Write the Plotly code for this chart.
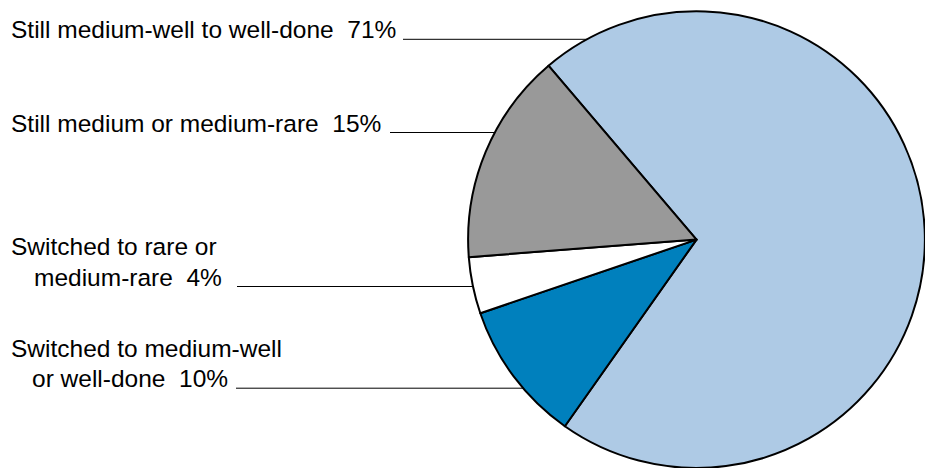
import math
import plotly.graph_objects as go

# ---- data ----
categories = ["Still medium-well to well-done",
              "Switched to medium-well or well-done",
              "Switched to rare or medium-rare",
              "Still medium or medium-rare"]
values = [71, 10, 4, 15]
label_lines = [["Still medium-well to well-done"],
               ["Switched to medium-well", "or well-done"],
               ["Switched to rare or", "medium-rare"],
               ["Still medium or medium-rare"]]
colors = ["#aecae5", "#0080bd", "#ffffff", "#999999"]

# ---- layout geometry (pixels) ----
W, H = 925, 468
dom_x = [468 / W, 1.0]
dom_y = [0.0, 0.976]
pw = (dom_x[1] - dom_x[0]) * W
ph = (dom_y[1] - dom_y[0]) * H
R = min(pw, ph) / 2
CX = (dom_x[0] + dom_x[1]) / 2 * W
CY = H - (dom_y[0] + dom_y[1]) / 2 * H

FONT = dict(family="Liberation Sans, Arial, sans-serif", size=24.5, color="#000000")

fig = go.Figure(go.Pie(
    labels=categories,
    values=values,
    sort=False,
    direction="clockwise",
    rotation=-40.4,
    marker=dict(colors=colors, line=dict(color="#000000", width=2)),
    textinfo="none",
    hoverinfo="label+percent",
    showlegend=False,
    domain=dict(x=dom_x, y=dom_y),
))

# label placement (pixels): baseline of first line, x of each line, leader start
label_base = [38.5, 356.7, 255.0, 131.7]
line_x = [[9], [9, 30], [9, 32], [9]]
leader_x0 = [403, 236, 237, 390]
LINE_GAP = 30.7

def px_x(x):
    return x / W

def px_y(y):
    return 1 - y / H

annotations = []
shapes = []
for i, lines in enumerate(label_lines):
    for j, txt in enumerate(lines):
        t = txt
        if j == len(lines) - 1:
            t = txt + "\u00a0 " + f"{values[i]}%"
        base = label_base[i] + j * LINE_GAP
        annotations.append(dict(
            x=px_x(line_x[i][j]), y=px_y(base - 8.5), xref="paper", yref="paper",
            xanchor="left", yanchor="middle", text=t, showarrow=False,
            font=FONT, align="left",
        ))
    ly = label_base[i] + (len(lines) - 1) * LINE_GAP + 0.8
    dx = math.sqrt(max(R * R - (ly - CY) ** 2, 0))
    x_end = CX - dx + 4
    shapes.append(dict(
        type="line", xref="paper", yref="paper", layer="below",
        x0=px_x(leader_x0[i]), x1=px_x(x_end), y0=px_y(ly), y1=px_y(ly),
        line=dict(color="#000000", width=1),
    ))

fig.update_layout(
    width=W, height=H,
    margin=dict(l=0, r=0, t=0, b=0),
    paper_bgcolor="#ffffff",
    plot_bgcolor="#ffffff",
    annotations=annotations,
    shapes=shapes,
)

fig.write_html("out.html")
